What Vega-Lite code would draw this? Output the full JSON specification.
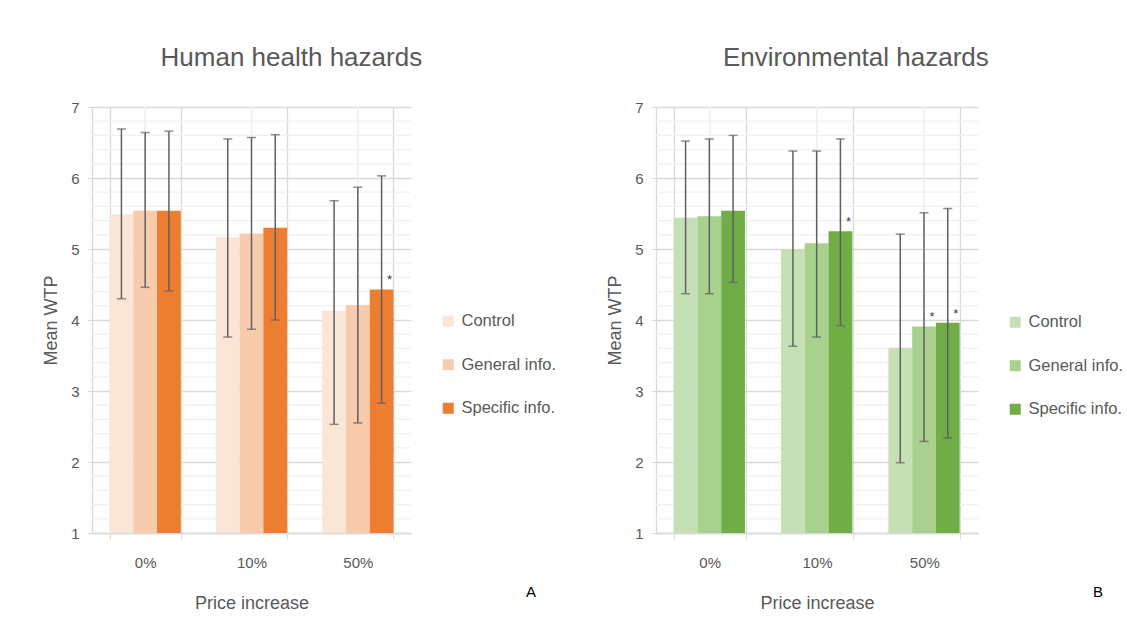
{
  "$schema": "https://vega.github.io/schema/vega-lite/v6.json",
  "padding": {"left": 42, "top": 45, "right": 5, "bottom": 5},
  "datasets": {
    "human": [
      {"price": "0%", "group": "Control", "mean": 5.49, "lo": 4.30, "hi": 6.69, "sig": ""},
      {"price": "0%", "group": "General info.", "mean": 5.54, "lo": 4.46, "hi": 6.64, "sig": ""},
      {"price": "0%", "group": "Specific info.", "mean": 5.54, "lo": 4.41, "hi": 6.66, "sig": ""},
      {"price": "10%", "group": "Control", "mean": 5.17, "lo": 3.76, "hi": 6.55, "sig": ""},
      {"price": "10%", "group": "General info.", "mean": 5.22, "lo": 3.87, "hi": 6.57, "sig": ""},
      {"price": "10%", "group": "Specific info.", "mean": 5.30, "lo": 4.00, "hi": 6.61, "sig": ""},
      {"price": "50%", "group": "Control", "mean": 4.13, "lo": 2.53, "hi": 5.68, "sig": ""},
      {"price": "50%", "group": "General info.", "mean": 4.21, "lo": 2.55, "hi": 5.87, "sig": ""},
      {"price": "50%", "group": "Specific info.", "mean": 4.43, "lo": 2.83, "hi": 6.03, "sig": "*"}
    ],
    "env": [
      {"price": "0%", "group": "Control", "mean": 5.44, "lo": 4.37, "hi": 6.52, "sig": ""},
      {"price": "0%", "group": "General info.", "mean": 5.46, "lo": 4.37, "hi": 6.55, "sig": ""},
      {"price": "0%", "group": "Specific info.", "mean": 5.54, "lo": 4.53, "hi": 6.60, "sig": ""},
      {"price": "10%", "group": "Control", "mean": 5.00, "lo": 3.63, "hi": 6.38, "sig": ""},
      {"price": "10%", "group": "General info.", "mean": 5.08, "lo": 3.76, "hi": 6.38, "sig": ""},
      {"price": "10%", "group": "Specific info.", "mean": 5.25, "lo": 3.92, "hi": 6.55, "sig": "*"},
      {"price": "50%", "group": "Control", "mean": 3.61, "lo": 1.99, "hi": 5.21, "sig": ""},
      {"price": "50%", "group": "General info.", "mean": 3.91, "lo": 2.29, "hi": 5.51, "sig": "*"},
      {"price": "50%", "group": "Specific info.", "mean": 3.96, "lo": 2.34, "hi": 5.57, "sig": "*"}
    ],
    "minor": [
      {"v": 1.2}, {"v": 1.4}, {"v": 1.6}, {"v": 1.8},
      {"v": 2.2}, {"v": 2.4}, {"v": 2.6}, {"v": 2.8},
      {"v": 3.2}, {"v": 3.4}, {"v": 3.6}, {"v": 3.8},
      {"v": 4.2}, {"v": 4.4}, {"v": 4.6}, {"v": 4.8},
      {"v": 5.2}, {"v": 5.4}, {"v": 5.6}, {"v": 5.8},
      {"v": 6.2}, {"v": 6.4}, {"v": 6.6}, {"v": 6.8}
    ]
  },
  "config": {
    "font": "Liberation Sans",
    "view": {"stroke": null},
    "axis": {
      "labelFont": "Liberation Sans",
      "titleFont": "Liberation Sans",
      "labelColor": "#595959",
      "titleColor": "#595959",
      "titleFontWeight": "normal",
      "labelFontSize": 15,
      "titleFontSize": 18,
      "domainColor": "#D9D9D9",
      "tickColor": "#D9D9D9",
      "gridColor": "#D9D9D9",
      "domainWidth": 1.3,
      "gridWidth": 1.3
    },
    "axisX": {"labelAngle": 0, "tickBand": "extent", "grid": true, "tickSize": 6, "labelPadding": 16, "titlePadding": 24},
    "axisY": {"grid": true, "tickSize": 5, "labelPadding": 8, "titlePadding": 10, "titleFontSize": 18},
    "legend": {
      "labelFont": "Liberation Sans",
      "labelFontSize": 16.5,
      "labelColor": "#595959"
    },
    "title": {"font": "Liberation Sans", "fontWeight": "normal", "color": "#595959"}
  },
  "spacing": 50,
  "resolve": {"scale": {"color": "independent"}},
  "hconcat": [
    {
      "title": {"text": "A", "orient": "bottom", "anchor": "end", "frame": "bounds", "fontSize": 15, "color": "#000000", "offset": -27, "dx": -20},
      "resolve": {"scale": {"color": "independent"}},
      "hconcat": [
        {
          "title": {"text": "Human health hazards", "fontSize": 26, "anchor": "middle", "frame": "bounds", "offset": 29, "dx": -8},
          "width": 319,
          "height": 426,
          "data": {"name": "human"},
          "layer": [
            {
              "data": {"name": "minor"},
              "mark": {"type": "rule", "color": "#F0F0F0", "strokeWidth": 1.2},
              "encoding": {"y": {"field": "v", "type": "quantitative", "axis": {"title": "Mean WTP", "values": [1, 2, 3, 4, 5, 6, 7], "format": "d"}, "scale": {"domain": [1, 7], "nice": false, "zero": false}}}
            },
            {
              "mark": {"type": "rule", "color": "#F0F0F0", "strokeWidth": 1.2},
              "encoding": {"x": {"field": "price", "type": "nominal", "title": "Price increase", "sort": ["0%", "10%", "50%"], "scale": {"paddingInner": 0.33, "paddingOuter": 0.165}}}
            },
            {
              "mark": {"type": "bar"},
              "encoding": {
                "x": {"field": "price", "type": "nominal", "title": "Price increase", "sort": ["0%", "10%", "50%"], "scale": {"paddingInner": 0.33, "paddingOuter": 0.165}},
                "xOffset": {"field": "group", "type": "nominal"},
                "y": {"field": "mean", "type": "quantitative", "axis": {"title": "Mean WTP", "values": [1, 2, 3, 4, 5, 6, 7], "format": "d"}, "scale": {"domain": [1, 7], "nice": false, "zero": false}},
                "y2": {"datum": 1},
                "color": {"field": "group", "type": "nominal",
                  "scale": {"domain": ["Control", "General info.", "Specific info."], "range": ["#FBE5D6", "#F8CBAD", "#ED7D31"]},
                  "legend": {"title": null, "orient": "none", "legendX": 348, "legendY": 206, "symbolType": "square", "symbolSize": 121, "symbolStrokeWidth": 0, "rowPadding": 26.5, "labelOffset": 5}}
              }
            },
            {
              "mark": {"type": "rule", "color": "#606060", "strokeWidth": 1.5},
              "encoding": {
                "x": {"field": "price", "type": "nominal", "title": "Price increase", "sort": ["0%", "10%", "50%"], "scale": {"paddingInner": 0.33, "paddingOuter": 0.165}},
                "xOffset": {"field": "group", "type": "nominal"},
                "y": {"field": "lo", "type": "quantitative", "axis": {"title": "Mean WTP", "values": [1, 2, 3, 4, 5, 6, 7], "format": "d"}, "scale": {"domain": [1, 7], "nice": false, "zero": false}},
                "y2": {"field": "hi"}
              }
            },
            {
              "mark": {"type": "tick", "color": "#606060", "thickness": 1.5, "size": 9},
              "encoding": {
                "x": {"field": "price", "type": "nominal", "title": "Price increase", "sort": ["0%", "10%", "50%"], "scale": {"paddingInner": 0.33, "paddingOuter": 0.165}},
                "xOffset": {"field": "group", "type": "nominal"},
                "y": {"field": "lo", "type": "quantitative", "axis": {"title": "Mean WTP", "values": [1, 2, 3, 4, 5, 6, 7], "format": "d"}, "scale": {"domain": [1, 7], "nice": false, "zero": false}}
              }
            },
            {
              "mark": {"type": "tick", "color": "#606060", "thickness": 1.5, "size": 9},
              "encoding": {
                "x": {"field": "price", "type": "nominal", "title": "Price increase", "sort": ["0%", "10%", "50%"], "scale": {"paddingInner": 0.33, "paddingOuter": 0.165}},
                "xOffset": {"field": "group", "type": "nominal"},
                "y": {"field": "hi", "type": "quantitative", "axis": {"title": "Mean WTP", "values": [1, 2, 3, 4, 5, 6, 7], "format": "d"}, "scale": {"domain": [1, 7], "nice": false, "zero": false}}
              }
            },
            {
              "mark": {"type": "text", "color": "#404040", "fontSize": 13, "dx": 8, "dy": -9, "baseline": "middle"},
              "encoding": {
                "x": {"field": "price", "type": "nominal", "title": "Price increase", "sort": ["0%", "10%", "50%"], "scale": {"paddingInner": 0.33, "paddingOuter": 0.165}},
                "xOffset": {"field": "group", "type": "nominal"},
                "y": {"field": "mean", "type": "quantitative", "axis": {"title": "Mean WTP", "values": [1, 2, 3, 4, 5, 6, 7], "format": "d"}, "scale": {"domain": [1, 7], "nice": false, "zero": false}},
                "text": {"field": "sig"}
              }
            }
          ]
        }
      ]
    },
    {
      "title": {"text": "B", "orient": "bottom", "anchor": "end", "frame": "bounds", "fontSize": 15, "color": "#000000", "offset": -27, "dx": -20},
      "resolve": {"scale": {"color": "independent"}},
      "hconcat": [
        {
          "title": {"text": "Environmental hazards", "fontSize": 26, "anchor": "middle", "frame": "bounds", "offset": 29, "dx": -9},
          "width": 322,
          "height": 426,
          "data": {"name": "env"},
          "layer": [
            {
              "data": {"name": "minor"},
              "mark": {"type": "rule", "color": "#F0F0F0", "strokeWidth": 1.2},
              "encoding": {"y": {"field": "v", "type": "quantitative", "axis": {"title": "Mean WTP", "values": [1, 2, 3, 4, 5, 6, 7], "format": "d"}, "scale": {"domain": [1, 7], "nice": false, "zero": false}}}
            },
            {
              "mark": {"type": "rule", "color": "#F0F0F0", "strokeWidth": 1.2},
              "encoding": {"x": {"field": "price", "type": "nominal", "title": "Price increase", "sort": ["0%", "10%", "50%"], "scale": {"paddingInner": 0.33, "paddingOuter": 0.165}}}
            },
            {
              "mark": {"type": "bar"},
              "encoding": {
                "x": {"field": "price", "type": "nominal", "title": "Price increase", "sort": ["0%", "10%", "50%"], "scale": {"paddingInner": 0.33, "paddingOuter": 0.165}},
                "xOffset": {"field": "group", "type": "nominal"},
                "y": {"field": "mean", "type": "quantitative", "axis": {"title": "Mean WTP", "values": [1, 2, 3, 4, 5, 6, 7], "format": "d"}, "scale": {"domain": [1, 7], "nice": false, "zero": false}},
                "y2": {"datum": 1},
                "color": {"field": "group", "type": "nominal",
                  "scale": {"domain": ["Control", "General info.", "Specific info."], "range": ["#C5E0B4", "#A9D18E", "#70AD47"]},
                  "legend": {"title": null, "orient": "none", "legendX": 351, "legendY": 207, "symbolType": "square", "symbolSize": 121, "symbolStrokeWidth": 0, "rowPadding": 26.5, "labelOffset": 5}}
              }
            },
            {
              "mark": {"type": "rule", "color": "#606060", "strokeWidth": 1.5},
              "encoding": {
                "x": {"field": "price", "type": "nominal", "title": "Price increase", "sort": ["0%", "10%", "50%"], "scale": {"paddingInner": 0.33, "paddingOuter": 0.165}},
                "xOffset": {"field": "group", "type": "nominal"},
                "y": {"field": "lo", "type": "quantitative", "axis": {"title": "Mean WTP", "values": [1, 2, 3, 4, 5, 6, 7], "format": "d"}, "scale": {"domain": [1, 7], "nice": false, "zero": false}},
                "y2": {"field": "hi"}
              }
            },
            {
              "mark": {"type": "tick", "color": "#606060", "thickness": 1.5, "size": 9},
              "encoding": {
                "x": {"field": "price", "type": "nominal", "title": "Price increase", "sort": ["0%", "10%", "50%"], "scale": {"paddingInner": 0.33, "paddingOuter": 0.165}},
                "xOffset": {"field": "group", "type": "nominal"},
                "y": {"field": "lo", "type": "quantitative", "axis": {"title": "Mean WTP", "values": [1, 2, 3, 4, 5, 6, 7], "format": "d"}, "scale": {"domain": [1, 7], "nice": false, "zero": false}}
              }
            },
            {
              "mark": {"type": "tick", "color": "#606060", "thickness": 1.5, "size": 9},
              "encoding": {
                "x": {"field": "price", "type": "nominal", "title": "Price increase", "sort": ["0%", "10%", "50%"], "scale": {"paddingInner": 0.33, "paddingOuter": 0.165}},
                "xOffset": {"field": "group", "type": "nominal"},
                "y": {"field": "hi", "type": "quantitative", "axis": {"title": "Mean WTP", "values": [1, 2, 3, 4, 5, 6, 7], "format": "d"}, "scale": {"domain": [1, 7], "nice": false, "zero": false}}
              }
            },
            {
              "mark": {"type": "text", "color": "#404040", "fontSize": 13, "dx": 8, "dy": -9, "baseline": "middle"},
              "encoding": {
                "x": {"field": "price", "type": "nominal", "title": "Price increase", "sort": ["0%", "10%", "50%"], "scale": {"paddingInner": 0.33, "paddingOuter": 0.165}},
                "xOffset": {"field": "group", "type": "nominal"},
                "y": {"field": "mean", "type": "quantitative", "axis": {"title": "Mean WTP", "values": [1, 2, 3, 4, 5, 6, 7], "format": "d"}, "scale": {"domain": [1, 7], "nice": false, "zero": false}},
                "text": {"field": "sig"}
              }
            }
          ]
        }
      ]
    }
  ]
}
